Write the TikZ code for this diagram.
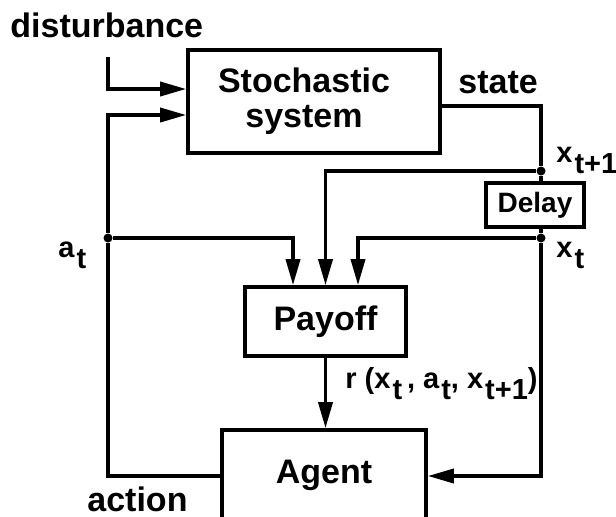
\documentclass[tikz,border=0pt]{standalone}
\usepackage{fontspec}
\setmainfont{Liberation Sans}
\usetikzlibrary{arrows.meta}

\tikzset{
  block/.style={draw, line width=1.8pt, inner sep=0pt, align=center,
    font=\bfseries\fontsize{17}{17.5}\selectfont},
  biglbl/.style={inner sep=0pt, font=\bfseries\fontsize{17}{20}\selectfont},
  smalllbl/.style={inner sep=0pt, font=\bfseries\fontsize{14.5}{16}\selectfont},
  wire/.style={line width=1.8pt},
  feed/.style={wire, -{Triangle[length=13pt,width=7pt]}},
  junction/.style={circle, fill, inner sep=0pt, minimum size=4.5pt},
}
\newcommand{\lowsub}[1]{\kern1pt\raisebox{-5.5pt}{#1}}

\begin{document}
\begin{tikzpicture}[x=0.5pt, y=-0.5pt]
  \useasboundingbox (0,0) rectangle (616,516);
  \clip (0,0) rectangle (616,516);

  % the four blocks
  \node[block, minimum width=126pt, minimum height=51.5pt] (stoch) at (314,101.5) {Stochastic\hspace*{10pt}\\system\hspace*{10pt}};
  \node[block, minimum width=80.5pt, minimum height=34.5pt] (payoff) at (325.5,321.5) {Payoff};
  \node[block, minimum width=102pt, minimum height=46pt, text height=12.5pt, text depth=5.5pt] (agent) at (324,476) {Agent};
  \node[block, minimum width=49pt, minimum height=22pt, font=\bfseries\fontsize{14}{16}\selectfont] (delay) at (535,205) {Delay};

  % branch points
  \node[junction] (xnext) at (541,171) {};
  \node[junction] (xnow) at (541,238) {};
  \node[junction] (anow) at (108,238) {};
  \coordinate (dist) at (108,57);

  % system inputs
  \draw[feed] (dist) |- ([yshift=6.25pt]stoch.west);
  \draw[feed] (agent.west) -| (anow) |- ([yshift=-6.75pt]stoch.west);

  % state through the delay
  \draw[wire] ([yshift=-2.25pt]stoch.east) -| (xnext);
  \draw[wire] (xnext) -- (xnext |- delay.north);
  \draw[wire] (xnow |- delay.south) -- (xnow);
  \draw[feed] (xnow) |- (agent.east);

  % payoff inputs and output
  \draw[feed] (anow) -| ([xshift=-16.25pt]payoff.north);
  \draw[feed] (xnext) -| (payoff.north);
  \draw[feed] (xnow) -| ([xshift=16.25pt]payoff.north);
  \draw[feed] (payoff.south) -- (payoff.south |- agent.north);

  % labels
  \node[biglbl, anchor=base west] (distlbl) at (10,37) {disturbance};
  \node[biglbl, anchor=base west] (statelbl) at (458,93) {state};
  \node[biglbl, anchor=base west] (actlbl) at (87,511) {action};
  \node[smalllbl, anchor=base west] (xnextlbl) at (556,162) {x\lowsub{t+1}};
  \node[smalllbl, anchor=base west] (xnowlbl) at (556,257) {x\lowsub{t}};
  \node[smalllbl, anchor=base west] (anowlbl) at (58,257) {a\lowsub{t}};
  \node[smalllbl, anchor=base west] (rlbl) at (345,388) {r (x\lowsub{t}\,, a\lowsub{t}, x\lowsub{t+1})};

\end{tikzpicture}
\end{document}
